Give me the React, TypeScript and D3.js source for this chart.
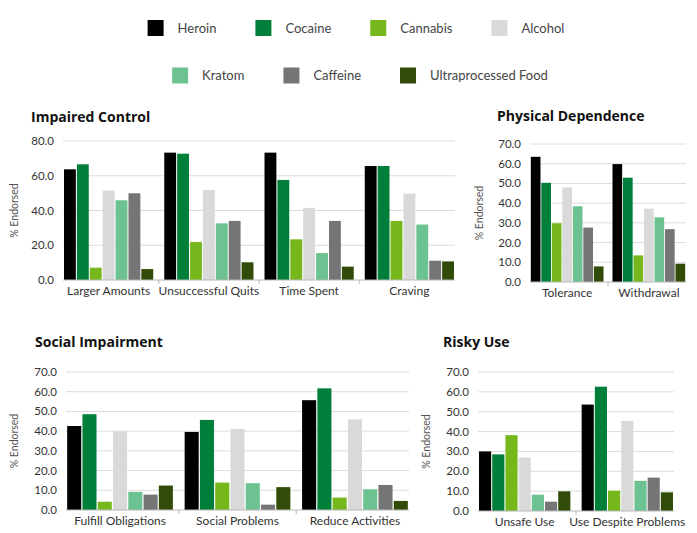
import React from "react";
import * as d3 from "d3";

// Substances, in legend / bar order
const seriesNames = ["Heroin", "Cocaine", "Cannabis", "Alcohol", "Kratom", "Caffeine", "Ultraprocessed Food"];
const seriesColors = ["#000000", "#007f3a", "#76b81b", "#d9d9d9", "#6cc290", "#757575", "#304c08"];

// Impaired Control
const impairedCategories = ["Larger Amounts", "Unsuccessful Quits", "Time Spent", "Craving"];
const impairedValues = [
  [63.7, 66.6, 7.1, 51.4, 45.9, 49.9, 6.3],
  [73.3, 72.7, 21.9, 51.8, 32.6, 34.0, 10.2],
  [73.3, 57.6, 23.4, 41.5, 15.5, 34.0, 7.7],
  [65.6, 65.6, 34.0, 49.7, 31.9, 11.1, 10.7],
];
const impairedTicks = [0, 20, 40, 60, 80];

// Physical Dependence
const physicalCategories = ["Tolerance", "Withdrawal"];
const physicalValues = [
  [63.5, 50.3, 29.8, 48.0, 38.4, 27.6, 7.9],
  [59.8, 52.9, 13.5, 37.2, 32.8, 26.8, 9.3],
];
const physicalTicks = [0, 10, 20, 30, 40, 50, 60, 70];

// Social Impairment
const socialCategories = ["Fulfill Obligations", "Social Problems", "Reduce Activities"];
const socialValues = [
  [42.6, 48.6, 4.2, 39.9, 9.2, 7.8, 12.4],
  [39.6, 45.7, 13.9, 41.1, 13.6, 2.7, 11.6],
  [55.7, 61.7, 6.3, 46.0, 10.5, 12.7, 4.6],
];
const socialTicks = [0, 10, 20, 30, 40, 50, 60, 70];

// Risky Use
const riskyCategories = ["Unsafe Use", "Use Despite Problems"];
const riskyValues = [
  [30.0, 28.5, 38.2, 27.0, 8.2, 4.7, 9.9],
  [53.6, 62.6, 10.2, 45.4, 15.2, 16.8, 9.4],
];
const riskyTicks = [0, 10, 20, 30, 40, 50, 60, 70];

const FONT = "Lato, 'Open Sans', sans-serif";
const TITLE_FONT = "'Open Sans', Lato, sans-serif";
const TEXT = "#333333";

type PanelProps = {
  title: string;
  categories: string[];
  values: number[][];
  ticks: number[];
  left: number;
  right: number;
  top: number;
  bottom: number;
  titleX: number;
  titleY: number;
  axisTitleX: number;
  groupPad: number;
};

function Panel(p: PanelProps) {
  const yMax = p.ticks[p.ticks.length - 1];
  const y = d3.scaleLinear().domain([0, yMax]).range([p.bottom, p.top]);
  const x0 = d3
    .scaleBand<string>()
    .domain(p.categories)
    .range([p.left, p.right])
    .paddingInner(p.groupPad)
    .paddingOuter(0.01);
  const x1 = d3
    .scaleBand<string>()
    .domain(seriesNames)
    .range([0, x0.bandwidth()])
    .paddingInner(0.08);
  const step = x0.step();
  const boundaries = p.categories.slice(1).map((c) => (x0(c) as number) - (step - x0.bandwidth()) / 2);
  const midY = (p.top + p.bottom) / 2;

  return (
    <g>
      <text x={p.titleX} y={p.titleY} fontFamily={TITLE_FONT} fontWeight={700} fontSize={14} fill="#111">
        {p.title}
      </text>
      <text
        transform={`translate(${p.axisTitleX},${midY}) rotate(-90)`}
        textAnchor="middle"
        fontFamily={FONT}
        fontSize={10.5}
        fill="#555"
      >
        % Endorsed
      </text>
      {p.ticks.map((t) => (
        <g key={t}>
          {t !== 0 && (
            <line x1={p.left} x2={p.right} y1={y(t)} y2={y(t)} stroke="#dcdcdc" strokeWidth={1} />
          )}
          <text
            x={p.left - 9}
            y={y(t)}
            dy="0.35em"
            textAnchor="end"
            fontFamily={FONT}
            fontSize={11.5}
            fill={TEXT}
          >
            {t.toFixed(1)}
          </text>
        </g>
      ))}
      {p.categories.map((c, ci) => (
        <g key={c} transform={`translate(${x0(c)},0)`}>
          {seriesNames.map((s, si) => {
            const v = p.values[ci][si];
            return (
              <rect
                key={s}
                x={x1(s)}
                y={y(v)}
                width={x1.bandwidth()}
                height={y(0) - y(v)}
                fill={seriesColors[si]}
              />
            );
          })}
          <text
            x={x0.bandwidth() / 2}
            y={p.bottom + 15}
            textAnchor="middle"
            fontFamily={FONT}
            fontSize={12}
            fill={TEXT}
          >
            {c}
          </text>
        </g>
      ))}
      <line x1={p.left} x2={p.right} y1={y(0)} y2={y(0)} stroke="#b8b8b8" strokeWidth={1} />
      {boundaries.map((bx, i) => (
        <line key={i} x1={bx} x2={bx} y1={y(0)} y2={y(0) + 4} stroke="#b8b8b8" strokeWidth={1} />
      ))}
    </g>
  );
}

function measure(text: string, font: string): number {
  const canvas = document.createElement("canvas");
  const ctx = canvas.getContext("2d");
  if (!ctx) return text.length * 6.5;
  ctx.font = font;
  return ctx.measureText(text).width;
}

function Legend() {
  const rows = [seriesNames.slice(0, 4), seriesNames.slice(4)];
  const rowY = [28, 75.5];
  const rowCenter = [356, 360];
  const sw = 16;
  const swGap = 14;
  const itemGap = 39;
  const font = `13px Lato, 'Open Sans', sans-serif`;
  return (
    <g>
      {rows.map((row, ri) => {
        const widths = row.map((n) => sw + swGap + measure(n, font));
        const total = d3.sum(widths) + itemGap * (row.length - 1);
        let cx = rowCenter[ri] - total / 2;
        return row.map((n, i) => {
          const xPos = cx;
          cx += widths[i] + itemGap;
          const idx = seriesNames.indexOf(n);
          return (
            <g key={n} transform={`translate(${xPos},${rowY[ri]})`}>
              <rect x={0} y={-8} width={sw} height={16} fill={seriesColors[idx]} />
              <text x={sw + swGap} y={0} dy="0.35em" fontFamily={FONT} fontSize={13} fill="#444">
                {n}
              </text>
            </g>
          );
        });
      })}
    </g>
  );
}

export default function App() {
  return (
    <svg
      width={697}
      height={533}
      style={{ position: "absolute", left: 0, top: 0, background: "#fff" }}
    >
      <rect width={697} height={533} fill="#fff" />
      <Legend />
      <Panel
        title="Impaired Control"
        categories={impairedCategories}
        values={impairedValues}
        ticks={impairedTicks}
        left={63}
        right={455}
        top={141}
        bottom={280}
        titleX={31}
        titleY={122}
        axisTitleX={18}
        groupPad={0.11}
      />
      <Panel
        title="Physical Dependence"
        categories={physicalCategories}
        values={physicalValues}
        ticks={physicalTicks}
        left={530}
        right={686}
        top={144}
        bottom={282}
        titleX={497}
        titleY={121}
        axisTitleX={483}
        groupPad={0.11}
      />
      <Panel
        title="Social Impairment"
        categories={socialCategories}
        values={socialValues}
        ticks={socialTicks}
        left={66}
        right={409}
        top={372}
        bottom={510}
        titleX={35}
        titleY={347}
        axisTitleX={18}
        groupPad={0.1}
      />
      <Panel
        title="Risky Use"
        categories={riskyCategories}
        values={riskyValues}
        ticks={riskyTicks}
        left={478}
        right={674}
        top={372}
        bottom={511}
        titleX={443}
        titleY={347}
        axisTitleX={430}
        groupPad={0.11}
      />
    </svg>
  );
}
